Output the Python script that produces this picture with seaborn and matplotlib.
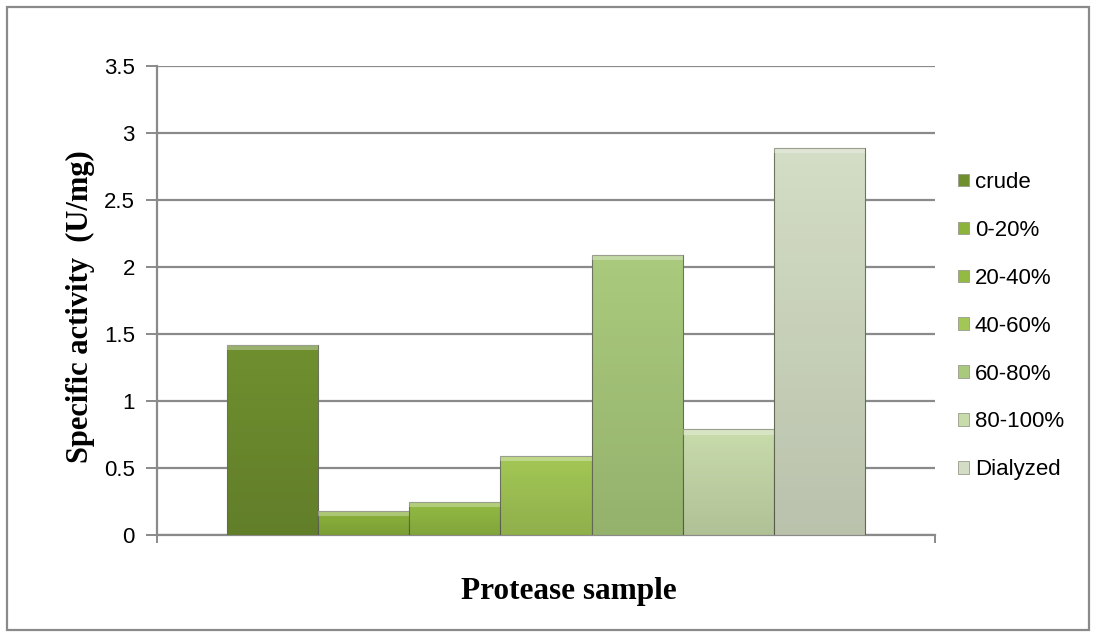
import numpy as np
import pandas as pd
import matplotlib
matplotlib.use("Agg")
import matplotlib.pyplot as plt
import seaborn as sns
from matplotlib.patches import Rectangle

samples = ["crude", "0-20%", "20-40%", "40-60%", "60-80%", "80-100%", "Dialyzed"]
activity = [1.42, 0.18, 0.25, 0.59, 2.09, 0.79, 2.89]
bar_colors = ["#6f8f2f", "#8cb33c", "#93bb43", "#a3c756", "#a9ca7c", "#c8dbab", "#d3dcc4"]
y_ticks = [0, 0.5, 1, 1.5, 2, 2.5, 3, 3.5]
y_tick_labels = ["0", "0.5", "1", "1.5", "2", "2.5", "3", "3.5"]

df = pd.DataFrame({"group": [""] * len(samples), "sample": samples, "activity": activity})

sns.set_theme(style="white")
plt.rcParams["font.family"] = ["Liberation Sans", "DejaVu Sans"]
plt.rcParams["text.color"] = "black"
plt.rcParams["ytick.labelcolor"] = "black"

fig = plt.figure(figsize=(10.96, 6.36), dpi=100)
ax = fig.add_axes([157 / 1096, 1 - 535 / 636, (935 - 157) / 1096, (535 - 66) / 636])

sns.barplot(data=df, x="group", y="activity", hue="sample", hue_order=samples,
            palette=bar_colors, width=0.82, gap=0, edgecolor="#6e7560",
            linewidth=0.8, saturation=1, legend=False, ax=ax, zorder=3)

# soft bevel shading on each bar: slightly darker towards the base, light top rim
shade = matplotlib.colors.LinearSegmentedColormap.from_list(
    "shade", [(0, 0, 0, 0.12), (0, 0, 0, 0.0)])
for patch in list(ax.patches):
    x0, y0 = patch.get_x(), patch.get_y()
    w, h = patch.get_width(), patch.get_height()
    grad = np.linspace(0, 1, 64).reshape(-1, 1)
    ax.imshow(grad, extent=(x0, x0 + w, y0, y0 + h), aspect="auto", origin="lower",
              cmap=shade, zorder=4, clip_path=patch, interpolation="bilinear")
    ax.add_patch(Rectangle((x0, y0 + h - 0.04), w, 0.04, facecolor="white",
                           alpha=0.3, edgecolor="none", zorder=5))

ax.set_xlim(-0.5, 0.5)
ax.set_ylim(0, 3.5)
ax.set_yticks(y_ticks)
ax.set_yticklabels(y_tick_labels, fontsize=16, color="black")
ax.set_xticks([-0.5, 0.5])
ax.set_xticklabels(["", ""])
ax.yaxis.grid(True, color="#8a8a8a", linewidth=1.6, zorder=0)
ax.set_axisbelow(True)
for side in ["top", "right"]:
    ax.spines[side].set_visible(False)
for side in ["left", "bottom"]:
    ax.spines[side].set_color("#8a8a8a")
    ax.spines[side].set_linewidth(1.6)
ax.tick_params(axis="y", length=8, width=1.4, color="#8a8a8a", pad=8, direction="out", left=True)
ax.tick_params(axis="x", length=6, width=1.4, color="#8a8a8a", direction="out", bottom=True)

ax.set_xlabel("")
ax.set_ylabel("")
fig.text(569 / 1096, 1 - 592 / 636, "Protease sample", ha="center", va="center",
         fontsize=22.5, fontweight="bold", family="Liberation Serif", color="black")
fig.text(80 / 1096, 1 - 307 / 636, "Specific activity  (U/mg)", ha="center", va="center",
         rotation=90, fontsize=22, fontweight="bold", family="Liberation Serif", color="black")

handles = [Rectangle((0, 0), 1, 1, facecolor=c, edgecolor="#9a9a8a", linewidth=0.6)
           for c in bar_colors]
leg = fig.legend(handles, samples, loc="upper left", bbox_to_anchor=(958 / 1096, 1 - 172 / 636),
                 frameon=False, fontsize=16, handlelength=0.5, handleheight=0.5,
                 handletextpad=0.25, labelspacing=1.21, borderaxespad=0, borderpad=0)
for t in leg.get_texts():
    t.set_color("black")

fig.patches.append(Rectangle((7 / 1096, 6 / 636), 1082 / 1096, 623 / 636,
                             transform=fig.transFigure, fill=False,
                             edgecolor="#8a8a8a", linewidth=1.6))

fig.savefig("out.png", dpi=100)
